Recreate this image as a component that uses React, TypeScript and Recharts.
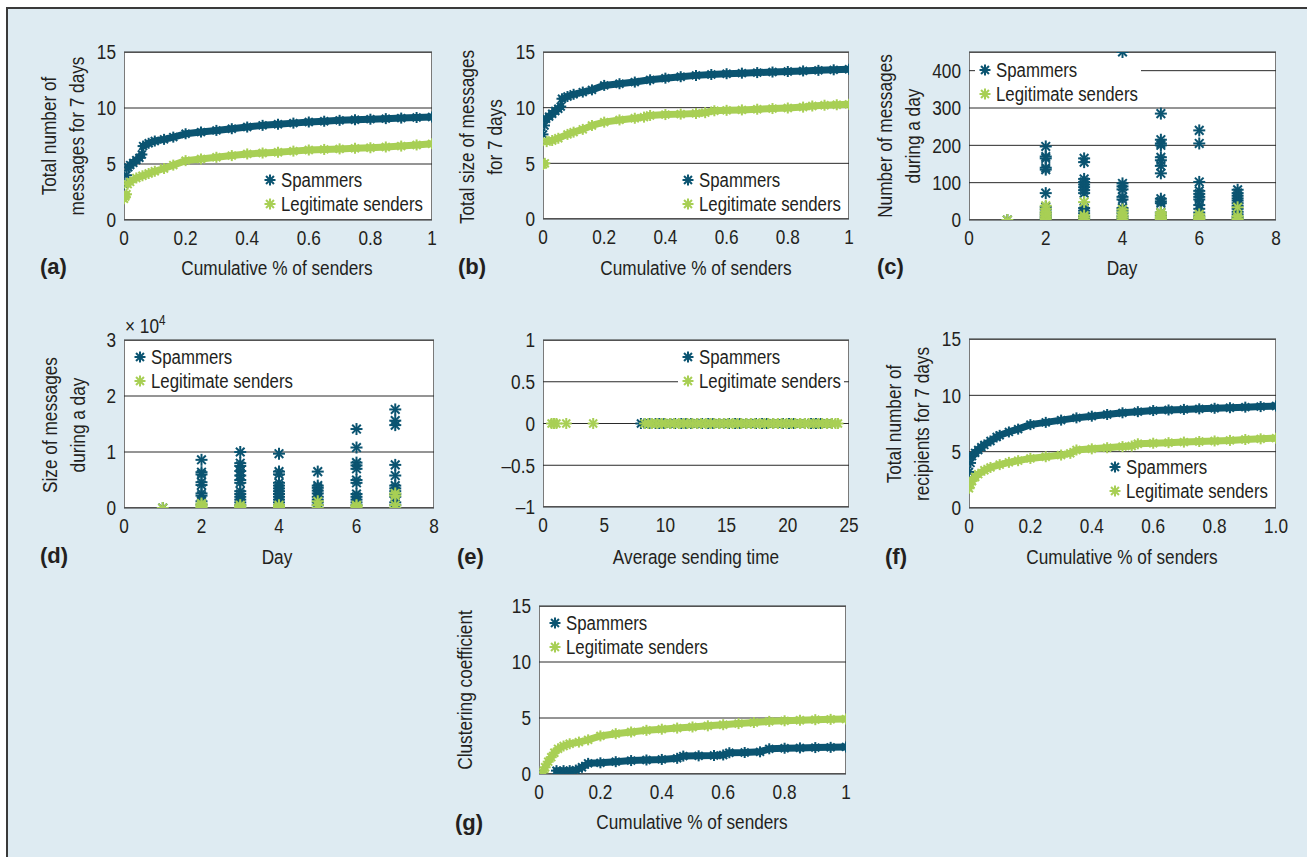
import React from 'react'
import { ScatterChart, Scatter, XAxis, YAxis, CartesianGrid } from 'recharts'

const SPAM = '#0b5471'
const LEGIT = '#a8cf55'
const INK = '#231f20'
const FONT = "'Liberation Sans', Arial, sans-serif"
const SQ = 0.84 // horizontal squeeze, to get a condensed face

// (a) total number of messages for 7 days (cdf)
const aSpammers = [
  [0, 3.2], [0.008, 4.0], [0.014, 4.7], [0.02, 4.9], [0.03, 5.1], [0.04, 5.35], [0.05, 5.55],
  [0.058, 5.85], [0.062, 6.6], [0.08, 6.85], [0.1, 7.05], [0.13, 7.2], [0.16, 7.4], [0.2, 7.7], [0.25, 7.85],
  [0.3, 8.0], [0.35, 8.15], [0.4, 8.3], [0.45, 8.45], [0.5, 8.55], [0.55, 8.65], [0.6, 8.75], [0.65, 8.82],
  [0.7, 8.9], [0.75, 8.95], [0.8, 9.0], [0.85, 9.05], [0.9, 9.1], [0.95, 9.15], [1.0, 9.2],
]
const aLegit = [
  [0, 1.9], [0.004, 2.1], [0.008, 2.3], [0.012, 3.2], [0.02, 3.4], [0.04, 3.75], [0.06, 3.95], [0.08, 4.15],
  [0.1, 4.35], [0.13, 4.6], [0.16, 4.9], [0.2, 5.3], [0.25, 5.45], [0.3, 5.6], [0.35, 5.75], [0.4, 5.9],
  [0.45, 5.98], [0.5, 6.05], [0.55, 6.15], [0.6, 6.25], [0.65, 6.3], [0.7, 6.35], [0.75, 6.4], [0.8, 6.45],
  [0.85, 6.52], [0.9, 6.6], [0.95, 6.7], [1.0, 6.8],
]

// (b) total size of messages for 7 days (cdf)
const bSpammers = [
  [0, 7.6], [0.005, 8.4], [0.01, 9.0], [0.02, 9.2], [0.03, 9.45], [0.04, 9.7], [0.05, 9.9], [0.058, 10.1],
  [0.062, 10.8], [0.08, 11.0], [0.1, 11.2], [0.13, 11.4], [0.16, 11.6], [0.2, 12.0], [0.25, 12.15], [0.3, 12.3],
  [0.35, 12.5], [0.4, 12.65], [0.45, 12.78], [0.5, 12.9], [0.55, 12.98], [0.6, 13.05], [0.65, 13.1], [0.7, 13.15],
  [0.75, 13.2], [0.8, 13.25], [0.85, 13.3], [0.9, 13.35], [0.95, 13.4], [1.0, 13.45],
]
const bLegit = [
  [0, 4.9], [0.006, 5.0], [0.012, 6.95], [0.03, 7.05], [0.05, 7.25], [0.08, 7.6], [0.1, 7.8], [0.13, 8.05],
  [0.16, 8.4], [0.2, 8.7], [0.25, 8.9], [0.3, 9.05], [0.33, 9.15], [0.35, 9.3], [0.4, 9.38], [0.45, 9.42],
  [0.5, 9.48], [0.53, 9.55], [0.56, 9.72], [0.6, 9.76], [0.65, 9.8], [0.7, 9.86], [0.75, 9.92], [0.8, 9.97],
  [0.85, 10.05], [0.88, 10.15], [0.92, 10.22], [0.96, 10.26], [1.0, 10.3],
]

// (c) number of messages during a day, values per day 1..7
const cSpammers = [
  [0],
  [197, 170, 165, 140, 135, 72, 35, 28, 20, 14, 8, 3, 0],
  [165, 155, 110, 102, 95, 88, 80, 72, 32, 25, 18, 10, 4, 0],
  [450, 98, 90, 82, 62, 55, 32, 25, 18, 10, 4],
  [285, 215, 205, 200, 168, 160, 145, 125, 57, 50, 45, 20, 12, 5],
  [240, 205, 102, 78, 70, 62, 55, 40, 30, 20, 10, 4],
  [81, 72, 65, 58, 52, 45, 38, 30, 22, 15, 8, 3],
]
const cLegit = [
  [0],
  [38, 30, 22, 16, 10, 5, 0],
  [48, 12, 6, 0],
  [28, 20, 12, 6, 0],
  [20, 14, 8, 3, 0],
  [15, 8, 3, 0],
  [34, 10, 4, 0],
]

// (d) size of messages during a day, values per day 1..7
const dSpammers = [
  [0],
  [8600, 6400, 6000, 4600, 4100, 2600, 2200, 1200, 600, 0],
  [10000, 8000, 7500, 6600, 5800, 5000, 4500, 3000, 2500, 2000, 1500, 1000, 500, 0],
  [9700, 6500, 6000, 4500, 4000, 3500, 3000, 2500, 2000, 1500, 1000, 500],
  [6500, 4000, 3600, 3100, 2600, 2000, 1500, 1000, 500],
  [14100, 10800, 8100, 7600, 7000, 5000, 4500, 2500, 2000, 1500, 1000, 500],
  [17600, 15600, 14800, 7700, 5800, 4000, 3500, 3000, 2500, 2000, 1000, 500],
]
const dLegit = [
  [0],
  [800, 500, 200, 0],
  [500, 200, 0],
  [500, 200, 0],
  [1200, 500, 0],
  [500, 300, 0],
  [2600, 2200, 500, 0],
]

// (e) average sending time (all at 0)
const eSpammers = [
  8.0, 8.3, 8.7, 9.2, 9.5, 9.9, 10.4, 10.8, 11.3, 11.7, 12.1, 12.6, 13.0, 13.5, 13.9, 14.4, 14.8, 15.2,
  15.7, 16.1, 16.6, 17.0, 17.4, 17.9, 18.3, 18.8, 19.2, 19.6, 20.1, 20.5, 21.0, 21.4, 21.9, 22.3, 22.7, 23.2, 23.6,
]
const eLegit = [
  0.7, 0.9, 1.1, 1.9, 4.1, 8.3, 8.6, 8.9, 9.3, 9.7, 10.0, 10.4, 10.7, 11.1, 11.5, 11.8, 12.2, 12.6, 12.9,
  13.3, 13.7, 14.0, 14.4, 14.8, 15.1, 15.5, 15.9, 16.2, 16.6, 17.0, 17.3, 17.7, 18.1, 18.4, 18.8, 19.2,
  19.5, 19.9, 20.3, 20.6, 21.0, 21.4, 21.7, 22.1, 22.5, 22.8, 23.2, 23.6, 23.9, 24.1,
]

// (f) total number of recipients for 7 days (cdf)
const fSpammers = [
  [0, 3.2], [0.005, 4.0], [0.01, 4.6], [0.02, 4.9], [0.03, 5.15], [0.04, 5.4], [0.05, 5.6], [0.07, 5.95],
  [0.09, 6.3], [0.1, 6.45], [0.13, 6.75], [0.16, 7.0], [0.2, 7.4], [0.25, 7.6], [0.3, 7.8], [0.35, 8.0],
  [0.4, 8.15], [0.45, 8.3], [0.5, 8.45], [0.55, 8.55], [0.6, 8.65], [0.65, 8.7], [0.7, 8.75], [0.75, 8.8],
  [0.8, 8.85], [0.85, 8.9], [0.9, 8.95], [0.95, 9.0], [1.0, 9.05],
]
const fLegit = [
  [0, 1.75], [0.005, 2.1], [0.01, 2.4], [0.02, 2.75], [0.03, 3.0], [0.05, 3.35], [0.07, 3.6], [0.1, 3.85],
  [0.13, 4.05], [0.16, 4.2], [0.2, 4.4], [0.25, 4.55], [0.3, 4.7], [0.33, 4.85], [0.35, 5.15], [0.4, 5.25],
  [0.45, 5.35], [0.5, 5.45], [0.53, 5.5], [0.55, 5.7], [0.6, 5.75], [0.65, 5.8], [0.7, 5.85], [0.75, 5.9],
  [0.8, 5.95], [0.85, 6.0], [0.9, 6.08], [0.95, 6.14], [1.0, 6.2],
]

// (g) clustering coefficient (cdf)
const gSpammers = [
  [0.057, 0.3], [0.08, 0.3], [0.1, 0.3], [0.12, 0.35], [0.14, 0.6], [0.16, 0.95], [0.2, 1.0], [0.25, 1.1],
  [0.3, 1.2], [0.35, 1.25], [0.4, 1.3], [0.45, 1.4], [0.47, 1.6], [0.52, 1.62], [0.57, 1.65], [0.6, 1.7],
  [0.62, 1.9], [0.67, 1.92], [0.72, 1.98], [0.75, 2.25], [0.8, 2.3], [0.85, 2.33], [0.9, 2.36], [0.95, 2.38],
  [1.0, 2.42],
]
const gLegit = [
  [0.013, 0.15], [0.02, 0.6], [0.03, 1.1], [0.04, 1.5], [0.05, 1.9], [0.062, 2.25], [0.08, 2.5], [0.1, 2.7],
  [0.13, 2.85], [0.16, 3.05], [0.2, 3.4], [0.25, 3.6], [0.3, 3.75], [0.35, 3.9], [0.4, 4.0], [0.45, 4.1],
  [0.5, 4.2], [0.55, 4.3], [0.6, 4.4], [0.65, 4.5], [0.7, 4.6], [0.75, 4.7], [0.8, 4.75], [0.85, 4.8],
  [0.9, 4.85], [0.95, 4.88], [1.0, 4.9],
]

const cdfTicks = [0, 0.2, 0.4, 0.6, 0.8, 1]
const dayTicks = [0, 2, 4, 6, 8]

type Pt = { x: number; y: number }
const byDay = (days: number[][]) => days.flatMap((vals, i) => vals.map(y => ({ x: i + 1, y })))
const onZero = (xs: number[]) => xs.map(x => ({ x, y: 0 }))

// the curves are dense markers, so a jump in the cdf leaves a gap: break the line there
function segments(rows: number[][]): Pt[][] {
  const out: Pt[][] = []
  rows.forEach(([x, y], i) => {
    if (i === 0 || y - rows[i - 1][1] > 0.58) out.push([])
    out[out.length - 1].push({ x, y })
  })
  return out
}

function Asterisk({ cx, cy, color, r = 5.5 }: { cx: number; cy: number; color: string; r?: number }) {
  const d = r * 0.72
  return (
    <g stroke={color} strokeWidth={2}>
      <line x1={cx - r} y1={cy} x2={cx + r} y2={cy} />
      <line x1={cx} y1={cy - r} x2={cx} y2={cy + r} />
      <line x1={cx - d} y1={cy - d} x2={cx + d} y2={cy + d} />
      <line x1={cx - d} y1={cy + d} x2={cx + d} y2={cy - d} />
    </g>
  )
}

function Tick(props: any) {
  const { x, y, payload, textAnchor, verticalAnchor, tickFormatter, index } = props
  const label = tickFormatter ? tickFormatter(payload.value, index) : String(payload.value)
  const dy = verticalAnchor === 'start' ? '0.71em' : '0.355em'
  return (
    <text
      x={x} y={y} dy={dy} textAnchor={textAnchor} fill={INK} fontSize={20.5} fontFamily={FONT}
      transform={`translate(${x} 0) scale(${SQ} 1) translate(${-x} 0)`}
    >
      {label}
    </text>
  )
}

type Series = { parts: Pt[][]; color: string; line?: boolean }

interface PanelProps {
  x: number
  y: number
  w: number
  h: number
  xDomain: [number, number]
  xTicks: number[]
  xFmt?: (v: number) => string
  yDomain: [number, number]
  yTicks: number[]
  yFmt?: (v: number) => string
  series: Series[]
  marker?: number
}

function Panel({ x, y, w, h, xDomain, xTicks, xFmt, yDomain, yTicks, yFmt, series, marker = 5.5 }: PanelProps) {
  const left = 60
  const top = 16
  return (
    <>
      <div
        style={{
          position: 'absolute', left: x, top: y, width: w, height: h,
          background: '#fff', boxSizing: 'border-box', border: '1px solid #7a7a7a',
        }}
      />
      <div style={{ position: 'absolute', left: x - left, top: y - top }}>
        <ScatterChart width={w + left + 24} height={h + top + 40} margin={{ top, right: 24, bottom: 0, left: 0 }}>
          <CartesianGrid vertical={false} stroke="#2a2a2a" />
          <XAxis
            type="number" dataKey="x" domain={xDomain} ticks={xTicks} interval={0}
            tickFormatter={xFmt} axisLine={false} tickLine={false} tickMargin={4}
            tick={<Tick />} height={40} allowDataOverflow
          />
          <YAxis
            type="number" dataKey="y" domain={yDomain} ticks={yTicks} interval={0}
            tickFormatter={yFmt} axisLine={false} tickLine={false}
            tick={<Tick />} width={left} allowDataOverflow
          />
          {series.flatMap((s, i) =>
            s.parts.map((part, j) => (
              <Scatter
                key={`${i}-${j}`}
                data={part}
                fill={s.color}
                isAnimationActive={false}
                line={s.line && part.length > 1 ? { stroke: s.color, strokeWidth: 7, strokeLinecap: 'round', strokeLinejoin: 'round' } : false}
                lineType="joint"
                shape={(p: any) => <Asterisk cx={p.cx} cy={p.cy} color={s.color} r={marker} />}
              />
            ))
          )}
        </ScatterChart>
      </div>
    </>
  )
}

const squeezed = (origin: string): React.CSSProperties => ({
  display: 'inline-block', transform: `scaleX(${SQ})`, transformOrigin: origin, whiteSpace: 'nowrap',
})

function Key({ x, y, w = 166 }: { x: number; y: number; w?: number }) {
  const rows = [
    { label: 'Spammers', color: SPAM },
    { label: 'Legitimate senders', color: LEGIT },
  ]
  return (
    <div
      style={{
        position: 'absolute', left: x - 10, top: y - 12, width: w, background: '#fff',
        fontFamily: FONT, fontSize: 20, color: INK, whiteSpace: 'nowrap',
      }}
    >
      {rows.map(r => (
        <div key={r.label} style={{ height: 24, lineHeight: '24px', display: 'flex', alignItems: 'center' }}>
          <svg width={21} height={24} style={{ flex: 'none' }}>
            <Asterisk cx={10} cy={12} color={r.color} />
          </svg>
          <span style={squeezed('left center')}>{r.label}</span>
        </div>
      ))}
    </div>
  )
}

function YTitle({ cx, cy, lines }: { cx: number; cy: number; lines: string[] }) {
  return (
    <div
      style={{
        position: 'absolute', left: cx, top: cy,
        transform: `translate(-50%, -50%) rotate(-90deg) scaleX(${SQ})`,
        whiteSpace: 'nowrap', textAlign: 'center', lineHeight: '28px', fontSize: 20.5, fontFamily: FONT, color: INK,
      }}
    >
      {lines.map(l => <div key={l}>{l}</div>)}
    </div>
  )
}

function XTitle({ cx, cy, text }: { cx: number; cy: number; text: string }) {
  return (
    <div
      style={{
        position: 'absolute', left: cx, top: cy, transform: `translate(-50%, -50%) scaleX(${SQ})`,
        whiteSpace: 'nowrap', fontSize: 20.5, fontFamily: FONT, color: INK,
      }}
    >
      {text}
    </div>
  )
}

function Tag({ x, cy, text }: { x: number; cy: number; text: string }) {
  return (
    <div
      style={{
        position: 'absolute', left: x, top: cy, transform: 'translateY(-50%)',
        fontSize: 22, fontWeight: 900, fontFamily: FONT, color: INK,
      }}
    >
      {text}
    </div>
  )
}

const plain = (v: number) => String(v)
const dash = (v: number) => (v < 0 ? '\u2013' + Math.abs(v) : String(v))

export default function App() {
  return (
    <div style={{ position: 'absolute', left: 0, top: 0, width: 1307, height: 857, background: '#fff', overflow: 'hidden' }}>
      <div
        style={{
          position: 'absolute', left: 6, top: 7, width: 1310, height: 860, background: '#deebf2',
          borderLeft: '2px solid #3a3a3a', borderTop: '2px solid #3a3a3a',
        }}
      />

      {/* (a) */}
      <Panel
        x={124} y={52} w={308} h={168}
        xDomain={[0, 1]} xTicks={cdfTicks} xFmt={plain}
        yDomain={[0, 15]} yTicks={[0, 5, 10, 15]}
        series={[{ parts: segments(aSpammers), color: SPAM, line: true }, { parts: segments(aLegit), color: LEGIT, line: true }]}
      />
      <Key x={270} y={180} />
      <YTitle cx={63} cy={136} lines={['Total number of', 'messages for 7 days']} />
      <XTitle cx={277} cy={268} text="Cumulative % of senders" />
      <Tag x={40} cy={267} text="(a)" />

      {/* (b) */}
      <Panel
        x={543} y={52} w={306} h={167}
        xDomain={[0, 1]} xTicks={cdfTicks} xFmt={plain}
        yDomain={[0, 15]} yTicks={[0, 5, 10, 15]}
        series={[{ parts: segments(bSpammers), color: SPAM, line: true }, { parts: segments(bLegit), color: LEGIT, line: true }]}
      />
      <Key x={688} y={180} />
      <YTitle cx={481} cy={137} lines={['Total size of messages', 'for 7 days']} />
      <XTitle cx={696} cy={268} text="Cumulative % of senders" />
      <Tag x={458} cy={267} text="(b)" />

      {/* (c) */}
      <Panel
        x={969} y={52} w={307} h={168} marker={6}
        xDomain={[0, 8]} xTicks={dayTicks}
        yDomain={[0, 450]} yTicks={[0, 100, 200, 300, 400]}
        series={[{ parts: [byDay(cSpammers)], color: SPAM }, { parts: [byDay(cLegit)], color: LEGIT }]}
      />
      <Key x={985} y={70} />
      <YTitle cx={899} cy={136} lines={['Number of messages', 'during a day']} />
      <XTitle cx={1122} cy={268} text="Day" />
      <Tag x={877} cy={267} text="(c)" />

      {/* (d) */}
      <Panel
        x={124} y={340} w={310} h={168} marker={6}
        xDomain={[0, 8]} xTicks={dayTicks}
        yDomain={[0, 30000]} yTicks={[0, 10000, 20000, 30000]} yFmt={v => String(v / 10000)}
        series={[{ parts: [byDay(dSpammers)], color: SPAM }, { parts: [byDay(dLegit)], color: LEGIT }]}
      />
      <Key x={140} y={357} />
      <div style={{ position: 'absolute', left: 125, top: 312, fontFamily: FONT, fontSize: 20.5, color: INK }}>
        <span style={squeezed('left center')}>
          {'\u00d7 10'}<sup style={{ fontSize: 14 }}>4</sup>
        </span>
      </div>
      <YTitle cx={64} cy={425} lines={['Size of messages', 'during a day']} />
      <XTitle cx={277} cy={557} text="Day" />
      <Tag x={40} cy={556} text="(d)" />

      {/* (e) */}
      <Panel
        x={543} y={340} w={306} h={167}
        xDomain={[0, 25]} xTicks={[0, 5, 10, 15, 20, 25]}
        yDomain={[-1, 1]} yTicks={[-1, -0.5, 0, 0.5, 1]} yFmt={dash}
        series={[{ parts: [onZero(eSpammers)], color: SPAM }, { parts: [onZero(eLegit)], color: LEGIT }]}
      />
      <Key x={688} y={357} />
      <XTitle cx={696} cy={557} text="Average sending time" />
      <Tag x={457} cy={557} text="(e)" />

      {/* (f) */}
      <Panel
        x={969} y={339} w={307} h={169}
        xDomain={[0, 1]} xTicks={cdfTicks} xFmt={v => (v === 0 ? '0' : v.toFixed(1))}
        yDomain={[0, 15]} yTicks={[0, 5, 10, 15]}
        series={[{ parts: segments(fSpammers), color: SPAM, line: true }, { parts: segments(fLegit), color: LEGIT, line: true }]}
      />
      <Key x={1115} y={467} />
      <YTitle cx={908} cy={424} lines={['Total number of', 'recipients for 7 days']} />
      <XTitle cx={1122} cy={557} text="Cumulative % of senders" />
      <Tag x={885} cy={557} text="(f)" />

      {/* (g) */}
      <Panel
        x={539} y={606} w={307} h={168}
        xDomain={[0, 1]} xTicks={cdfTicks} xFmt={plain}
        yDomain={[0, 15]} yTicks={[0, 5, 10, 15]}
        series={[{ parts: segments(gSpammers), color: SPAM, line: true }, { parts: segments(gLegit), color: LEGIT, line: true }]}
      />
      <Key x={555} y={623} />
      <YTitle cx={465} cy={690} lines={['Clustering coefficient']} />
      <XTitle cx={692} cy={822} text="Cumulative % of senders" />
      <Tag x={455} cy={823} text="(g)" />
    </div>
  )
}
